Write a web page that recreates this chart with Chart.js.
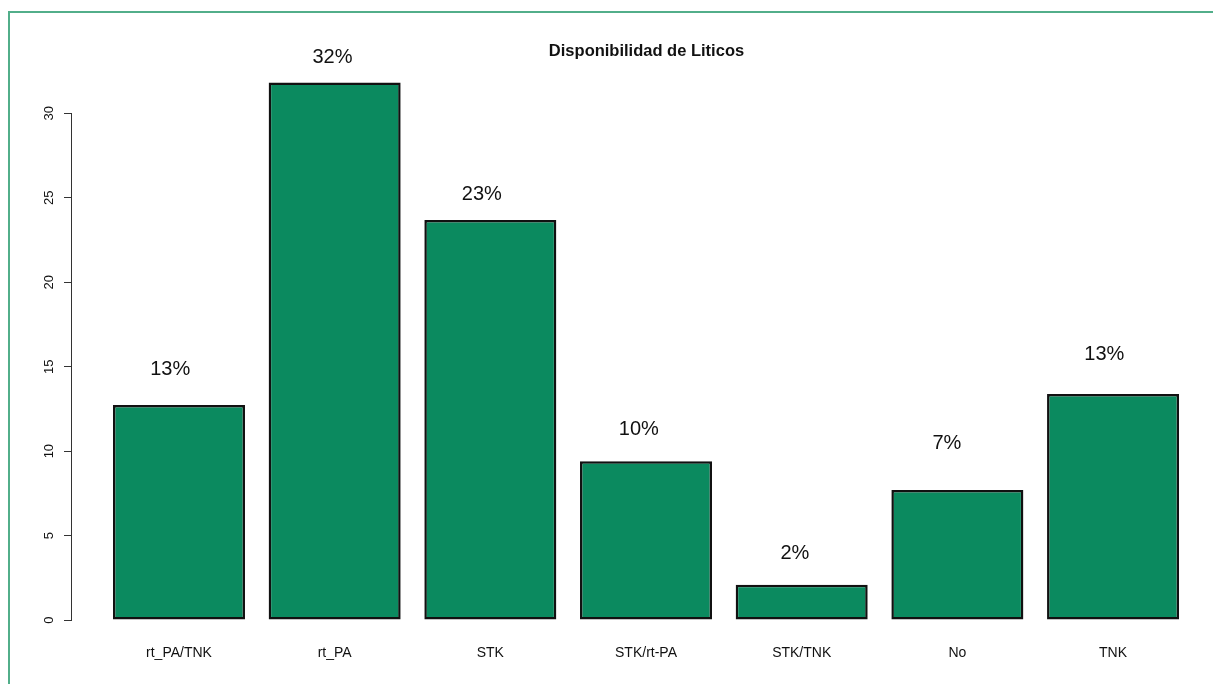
<!DOCTYPE html>
<html><head><meta charset="utf-8">
<script src="https://cdn.jsdelivr.net/npm/chart.js@4.4.1/dist/chart.umd.min.js"></script>
<style>html,body{margin:0;padding:0;background:#fff}#wrap{width:1213px;height:684px;position:relative}</style>
</head><body><div id="wrap"><canvas id="c"></canvas></div>
<script>
const categories = ["rt_PA/TNK", "rt_PA", "STK", "STK/rt-PA", "STK/TNK", "No", "TNK"];
const values = [12.73, 31.83, 23.68, 9.40, 2.09, 7.70, 13.38];
const pctLabels = ["13%", "32%", "23%", "10%", "2%", "7%", "13%"];
const pctLabelX = [0.944, 1.986, 2.945, 3.954, 4.956, 5.933, 6.944];
const pctLabelY = [14.94, 33.41, 25.31, 11.37, 4.04, 10.56, 15.83];
const yTicks = [0, 5, 10, 15, 20, 25, 30];
const chartTitle = "Disponibilidad de Liticos";

const FONT = '"Liberation Sans", Arial, Helvetica, sans-serif';

const decor = {
  id: 'decor',
  beforeDraw(chart) {
    const ctx = chart.ctx;
    ctx.save();
    ctx.fillStyle = '#fff';
    ctx.fillRect(0, 0, chart.width, chart.height);
    ctx.strokeStyle = '#52ae8a';
    ctx.lineWidth = 2;
    ctx.beginPath();
    ctx.moveTo(9, chart.height + 2);
    ctx.lineTo(9, 12);
    ctx.lineTo(chart.width + 2, 12);
    ctx.stroke();
    ctx.restore();
  },
  afterDraw(chart) {
    const ctx = chart.ctx;
    const xs = chart.scales.x, ys = chart.scales.y;
    ctx.save();
    ctx.strokeStyle = '#333';
    ctx.lineWidth = 1;
    const ax = chart.chartArea.left - 0.5;
    ctx.beginPath();
    ctx.moveTo(ax, Math.round(ys.getPixelForValue(yTicks[0])) + 0.5);
    ctx.lineTo(ax, Math.round(ys.getPixelForValue(yTicks[yTicks.length - 1])) + 0.5);
    ctx.stroke();
    ctx.fillStyle = '#111';
    ctx.font = '13px ' + FONT;
    ctx.textAlign = 'center';
    ctx.textBaseline = 'alphabetic';
    yTicks.forEach(v => {
      const y = ys.getPixelForValue(v);
      ctx.save();
      ctx.translate(48, y);
      ctx.rotate(-Math.PI / 2);
      ctx.fillText(String(v), 0, 0.358 * 13);
      ctx.restore();
    });
    ctx.font = '20px ' + FONT;
    pctLabels.forEach((t, i) => {
      const x = xs.getPixelForValue(pctLabelX[i]);
      const y = ys.getPixelForValue(pctLabelY[i]);
      ctx.fillText(t, x, y + 0.358 * 20);
    });
    ctx.font = 'bold 16.5px ' + FONT;
    ctx.fillText(chartTitle, 646.5, 49.9 + 0.358 * 16.5);
    ctx.restore();
  }
};

new Chart(document.getElementById('c'), {
  type: 'bar',
  data: {
    datasets: [{
      data: values.map((v, i) => ({ x: i + 1, y: v })),
      backgroundColor: '#0b8a5f',
      borderColor: '#111',
      borderWidth: 2.5,
      borderSkipped: false,
      barPercentage: 0.848,
      categoryPercentage: 1
    }]
  },
  options: {
    responsive: true,
    maintainAspectRatio: false,
    devicePixelRatio: 1,
    animation: false,
    layout: { padding: { top: 61.8, left: 0, right: 0, bottom: 0 } },
    plugins: { legend: { display: false }, tooltip: { enabled: false }, title: { display: false } },
    scales: {
      x: {
        type: 'linear',
        offset: false,
        min: 0.3128,
        max: 7.642,
        afterBuildTicks: s => { s.ticks = categories.map((c, i) => ({ value: i + 1 })); },
        afterFit: s => { s.height = 42.5; },
        ticks: {
          callback: v => categories[Math.round(v) - 1],
          autoSkip: false, maxRotation: 0, minRotation: 0,
          font: { size: 14, family: FONT }, color: '#111', padding: 3
        },
        grid: { display: false, drawTicks: false, offset: false },
        border: { display: false }
      },
      y: {
        min: -1.27,
        max: 33.05,
        afterBuildTicks: s => { s.ticks = yTicks.map(v => ({ value: v })); },
        afterFit: s => { s.width = 72; },
        ticks: { display: false },
        grid: { display: true, drawOnChartArea: false, drawTicks: true, tickLength: 8, color: '#333', lineWidth: 1 },
        border: { display: false }
      }
    }
  },
  plugins: [decor]
});
</script>
</body></html>
